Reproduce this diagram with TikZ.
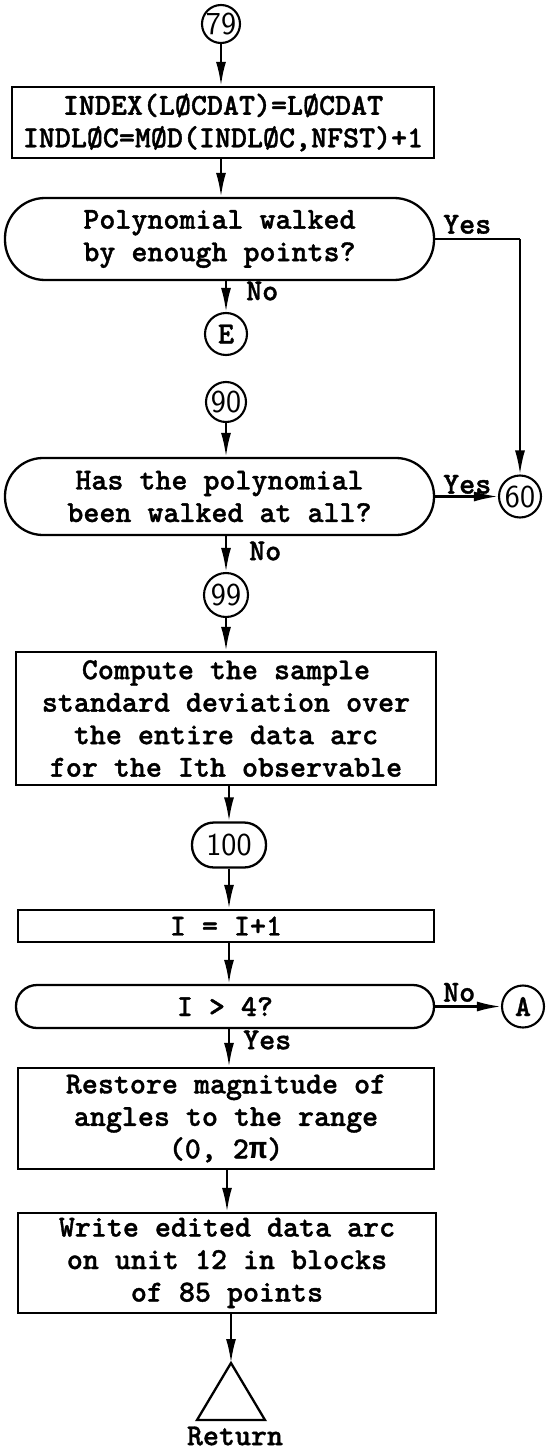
\documentclass[tikz,border=0pt]{standalone}
\usepackage{fontspec}
\newfontfamily\pif{Liberation Mono}
\newfontfamily\twfont{lmmonolt10-bold.otf}[FakeBold=1.2]
\usetikzlibrary{arrows.meta}
\newcommand\tw{\twfont\fontsize{30.5}{32.5}\selectfont}
\newcommand\cn{\sffamily\fontsize{32}{33}\selectfont}
\tikzset{
  box/.style={draw, line width=2.3pt, inner sep=0pt, align=center, font=\tw},
  dec/.style={box, rounded corners=#1},
  conn/.style={draw, circle, line width=2.1pt, inner sep=0pt, minimum size=#1},
  arr/.style={line width=2.3pt, -{Latex[length=24pt,width=10pt]}},
  lbl/.style={font=\tw, inner sep=0pt},
  ln/.style={line width=2.3pt}
}
\begin{document}
\begin{tikzpicture}[x=1pt,y=-1pt]
\useasboundingbox (0,0) rectangle (549,1450);
% nodes
\node[conn=38pt, font=\cn] (c79) at (221,24) {79};
\node[box, minimum width=422pt, minimum height=71pt] (b1) at (223,122.5)
  {INDEX(LØCDAT)=LØCDAT\\INDLØC=MØD(INDLØC,NFST)+1};
\node[dec=40pt, minimum width=429pt, minimum height=82pt] (d1) at (219.5,239)
  {Polynomial walked\\by enough points?};
\node[conn=42pt, font=\tw] (cE) at (226,334) {E};
\node[conn=40pt, font=\cn] (c90) at (226,402) {90};
\node[dec=38pt, minimum width=429pt, minimum height=77pt] (d2) at (219.5,496.5)
  {Has the polynomial\\been walked at all?};
\node[conn=42pt, font=\cn] (c60) at (520,496.5) {60};
\node[conn=44pt, font=\cn] (c99) at (226,595) {99};
\node[box, minimum width=420pt, minimum height=133pt] (b3) at (226,718.5)
  {Compute the sample\\standard deviation over\\the entire data arc\\for the Ith observable};
\node[draw, line width=2.3pt, rounded corners=22pt, minimum width=74pt, minimum height=45pt, inner sep=0pt, font=\cn] (o100) at (229,845) {100};
\node[box, minimum width=416pt, minimum height=32pt] (b4) at (226,926) {I = I+1};
\node[dec=21pt, minimum width=418pt, minimum height=43pt] (d3) at (225,1006.5) {I > 4?};
\node[conn=42pt, font=\tw] (cA) at (523,1006.5) {A};
\node[box, minimum width=416pt, minimum height=101pt] (b5) at (226,1118.5)
  {Restore magnitude of\\angles to the range\\(0, 2{\pif\bfseries π})};
\node[box, minimum width=418pt, minimum height=100pt] (b6) at (227,1263)
  {Write edited data arc\\on unit 12 in blocks\\of 85 points};
\coordinate (tri) at (231,1363);
\draw[ln, line join=miter] (tri) -- (197,1420) -- (265,1420) -- cycle;
\node[lbl] (ret) at (235,1436) {Return};
% labels
\node[lbl, anchor=south west] (y1) at (443,234) {Yes};
\node[lbl, anchor=west] (n1) at (246,291) {No};
\node[lbl, anchor=south west] (y2) at (443,494) {Yes};
\node[lbl, anchor=west] (n2) at (249,551) {No};
\node[lbl, anchor=south west] (n3) at (443,1002) {No};
\node[lbl, anchor=west] (y3) at (243,1040) {Yes};
% connectors
\draw[arr] (c79) -- (c79 |- b1.north);
\draw[arr] (b1.south -| c79) -- (c79 |- d1.north);
\draw[arr] (d1.south -| cE) -- (cE);
\draw[arr] (c90) -- (c90 |- d2.north);
\draw[ln] (d1.east) -- (d1.east -| c60);
\draw[arr] (d1.east -| c60) -- (c60);
\draw[arr] (d2.east) -- (c60);
\draw[arr] (d2.south -| c99) -- (c99);
\draw[arr] (c99) -- (c99 |- b3.north);
\draw[arr] (b3.south -| o100) -- (o100);
\draw[arr] (o100) -- (o100 |- b4.north);
\draw[arr] (b4.south -| o100) -- (o100 |- d3.north);
\draw[arr] (d3.east) -- (cA);
\draw[arr] (d3.south -| o100) -- (o100 |- b5.north);
\draw[arr] (b5.south -| b6) -- (b6.north);
\draw[arr] (b6.south -| tri) -- (tri);
\end{tikzpicture}
\end{document}
